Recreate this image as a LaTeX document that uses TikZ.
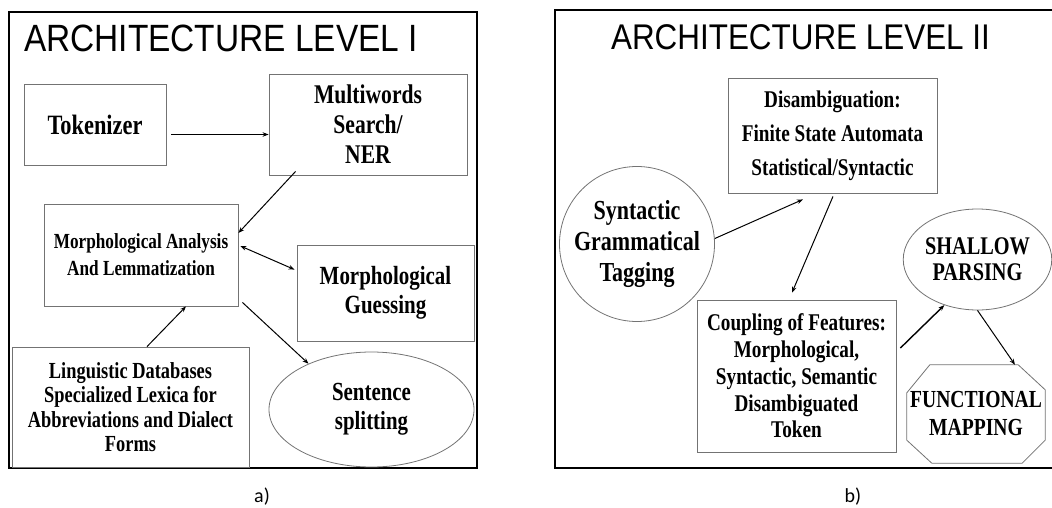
\documentclass[tikz,border=0pt]{standalone}
\usepackage{fontspec}
\newfontfamily\boxfont[FakeStretch=0.8]{Liberation Serif}
\newfontfamily\titlefont[FakeStretch=0.88]{Liberation Sans}
\newfontfamily\capfont{Carlito}
\usetikzlibrary{
  positioning,
  shapes.geometric,
  arrows.meta,
  calc
}

\begin{document}
\begin{tikzpicture}[x=1pt, y=-1pt,
  every node/.style={inner sep=0pt, align=center},
  box/.style={draw=black!55, line width=0.8pt, rectangle},
  oval/.style={draw=black!55, line width=0.8pt, ellipse},
  octo/.style={rectangle},
  heading/.style={font=\titlefont},
  caption/.style={font=\capfont\fontsize{20}{24}\selectfont},
  arrow/.style={line width=1pt, ->, >={Stealth[length=6pt, width=4.5pt]}}
]
\useasboundingbox (0,0) rectangle (1052,508);

% Frames
\draw[line width=1.2pt] (9,12) rectangle (477,468);
\draw[line width=2pt] (1053,10) -- (555,10) -- (555,468) -- (1053,468);

% Level I
\node[heading] (title1) at (221,38) {\fontsize{38}{40}\selectfont ARCHITECTURE LEVEL I};
\node[box, minimum width=142pt, minimum height=81pt,
  font=\boxfont\bfseries\fontsize{28}{30}\selectfont] (tok) at (95,124.5) {Tokenizer};
\node[box, minimum width=198pt, minimum height=101pt,
  font=\boxfont\bfseries\fontsize{27}{30}\selectfont] (mwe) at (368,124.5) {Multiwords\\Search/\\NER};
\node[box, minimum width=194pt, minimum height=102pt,
  font=\boxfont\bfseries\fontsize{21.5}{27}\selectfont] (morph) at (141,255)
  {Morphological Analysis\\And Lemmatization};
\node[box, minimum width=177pt, minimum height=96pt,
  font=\boxfont\bfseries\fontsize{26.2}{29}\selectfont] (guess) at (385.5,293) {Morphological\\Guessing};
\node[box, minimum width=237pt, minimum height=120pt,
  font=\boxfont\bfseries\fontsize{23}{24.5}\selectfont] (lingdb) at (130.5,407)
  {Linguistic Databases\\Specialized Lexica for\\Abbreviations and Dialect\\Forms};
\node[oval, minimum width=205pt, minimum height=115pt,
  font=\boxfont\bfseries\fontsize{26.1}{29}\selectfont] (split) at (371.5,409.5) {Sentence\\splitting};

\draw[arrow] ($(tok.east)+(5,10)$) -- ($(mwe.west)+(0,10)$);
\draw[arrow] ($(mwe.south west)+(27,-4)$) -- ($(morph.east)+(0,-22)$);
\draw[arrow, <->] ($(morph.east)+(2,-9)$) -- ($(guess.north west)+(-2,25)$);
\draw[arrow] ($(morph.south east)+(4,-4)$) -- (split.144);
\draw[arrow] ($(lingdb.north)+(16.5,0)$) -- ($(morph.south)+(45,0)$);

\node[caption] (capa) at (262,497) {a)};

% Level II
\node[heading] (title2) at (800.5,37) {\fontsize{35.7}{38}\selectfont ARCHITECTURE LEVEL II};
\node[box, minimum width=209pt, minimum height=115pt,
  font=\boxfont\bfseries\fontsize{24}{34}\selectfont] (disamb) at (832.5,135.5)
  {Disambiguation:\\Finite State Automata\\Statistical/Syntactic};
\node[oval, circle, minimum size=155pt,
  font=\boxfont\bfseries\fontsize{27.5}{31}\selectfont] (tagging) at (637,244)
  {Syntactic\\Grammatical\\Tagging};
\node[box, minimum width=199pt, minimum height=152pt,
  font=\boxfont\bfseries\fontsize{24}{26.7}\selectfont] (coupling) at (796.5,376)
  {Coupling of Features:\\Morphological,\\Syntactic, Semantic\\Disambiguated\\Token};
\node[oval, minimum width=131pt, minimum height=101pt,
  font=\boxfont\bfseries\fontsize{25.4}{26}\selectfont] (shallow) at (977.5,259.5) {SHALLOW\\PARSING};
\node[octo, minimum width=138pt, minimum height=98pt,
  font=\boxfont\bfseries\fontsize{24.5}{28}\selectfont] (funcmap) at (976,414) {FUNCTIONAL\\MAPPING};
% octagon outline round the mapping node
\draw[draw=black!55, line width=0.8pt]
  ($(funcmap.north west)+(23,0)$) -- ($(funcmap.north east)+(-27,0)$)
  -- ($(funcmap.north east)+(0,25)$) -- ($(funcmap.south east)+(0,-23)$)
  -- ($(funcmap.south east)+(-23,0)$) -- ($(funcmap.south west)+(25,0)$)
  -- ($(funcmap.south west)+(0,-23)$) -- ($(funcmap.north west)+(0,28)$) -- cycle;

\draw[arrow] (tagging.4) -- ($(disamb.south)+(-29.5,6)$);
\draw[arrow] ($(disamb.south)+(0.5,3)$) -- ($(coupling.north)+(-4.5,-7)$);
\draw[arrow, line width=1.4pt] ($(coupling.east)+(4,-28)$) -- (shallow.234);
\draw[arrow] (shallow.south) -- ($(funcmap.north)+(39,0)$);

\node[caption] (capb) at (853,497) {b)};

\end{tikzpicture}
\end{document}
